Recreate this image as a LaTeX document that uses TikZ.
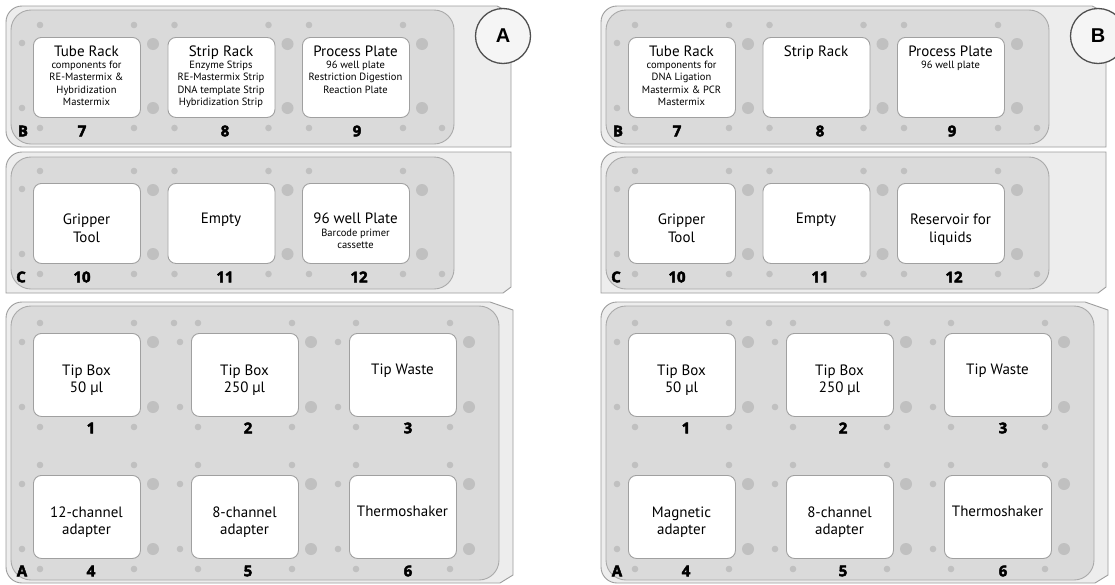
\documentclass[tikz,border=0pt]{standalone}
\usepackage{fontspec}
\setmainfont{PT Sans}
\newfontfamily\heavy{Open Sans}[BoldFeatures={FakeBold=3}]
\newfontfamily\circfont{Liberation Sans}
\definecolor{outerfill}{HTML}{EDEDED}
\definecolor{outerline}{HTML}{9D9D9D}
\definecolor{innerfill}{HTML}{DADADA}
\definecolor{innerline}{HTML}{A9A9A9}
\definecolor{tileline}{HTML}{A0A0A0}
\definecolor{dotfill}{HTML}{C0C0C0}
\definecolor{circfill}{HTML}{F5F5F5}
\definecolor{circline}{HTML}{505050}
\tikzset{
  outerdeck/.style={fill=outerfill, draw=outerline, line width=0.9pt},
  innerdeck/.style={fill=innerfill, draw=innerline, line width=0.9pt, rounded corners=20pt},
  tile/.style={draw=tileline, fill=white, rounded corners=8pt, line width=0.9pt,
    minimum width=107pt, minimum height=80pt, inner sep=0pt, anchor=north west},
  ttl/.style={font=\fontsize{15}{17.5}\selectfont, align=center, inner sep=0pt, anchor=north},
  sub/.style={font=\fontsize{10.5}{12.3}\selectfont, align=center, inner sep=0pt, anchor=north},
  num/.style={font=\heavy\bfseries\fontsize{15}{15}\selectfont, inner sep=0pt},
  circlabel/.style={circle, draw=circline, fill=circfill, line width=1.3pt, minimum size=55pt,
    inner sep=0pt, font=\circfont\bfseries\fontsize{20}{20}\selectfont},
}
\newcommand\deckframes[1]{%
  % outer plates
  \path[outerdeck] (511,13) -- (497,6) -- (22,6) arc[start angle=270,end angle=180,radius=16]
     -- (6,131) arc[start angle=180,end angle=90,radius=16] -- (511,147) -- cycle;
  \path[outerdeck] (511,152) -- (22,152) arc[start angle=270,end angle=180,radius=16]
     -- (6,293) -- (503,293) -- (511,287) -- cycle;
  \path[outerdeck] (513,310) -- (490,302) -- (22,302) arc[start angle=270,end angle=180,radius=16]
     -- (6,567) arc[start angle=180,end angle=90,radius=16] -- (500,583) -- (513,575) -- cycle;
  % inner plates
  \path[innerdeck] (11,10) rectangle (454,144);
  \path[innerdeck] (11,157) rectangle (454,289);
  \path[innerdeck] (11,306) rectangle (499,580);
  % decks B and C : dots
  \foreach \T in {37,183} {
    \foreach \L in {33,167.5,302} {
      \fill[dotfill] (\L+7,\T-12) circle[radius=3.3];
      \fill[dotfill] (\L+101,\T-12) circle[radius=3.3];
      \fill[dotfill] (\L+7,\T+91) circle[radius=3.3];
      \fill[dotfill] (\L+101,\T+91) circle[radius=3.3];
      \fill[dotfill] (\L+120,\T+7) circle[radius=6];
      \fill[dotfill] (\L+120,\T+71) circle[radius=6];
    }
    \fill[dotfill] (22,\T+6) circle[radius=3.3];
    \fill[dotfill] (22,\T+71) circle[radius=3.3];
    \fill[dotfill] (442,\T+91) circle[radius=3.3];
  }
  % deck A : dots
  \foreach \T in {333,475} {
    \foreach \L in {33,191,349} {
      \fill[dotfill] (\L+7,\T-10) circle[radius=3.3];
      \fill[dotfill] (\L+101,\T-10) circle[radius=3.3];
      \fill[dotfill] (\L+7,\T+94) circle[radius=3.3];
      \fill[dotfill] (\L+101,\T+94) circle[radius=3.3];
      \fill[dotfill] (\L-11,\T+9) circle[radius=3.3];
      \fill[dotfill] (\L-11,\T+74) circle[radius=3.3];
      \fill[dotfill] (\L+120,\T+9) circle[radius=6];
      \fill[dotfill] (\L+120,\T+74) circle[radius=6];
    }
  }
  \fill[dotfill] (174,323) circle[radius=3.3];
  % tiles
  \foreach \L/\n/\nx in {33/7/82,167.5/8/225,302/9/357} {
    \node[tile] (#1t\n) at (\L,37) {};
    \node[num] (#1n\n) at (\nx,131) {\n};
  }
  \foreach \L/\n/\nx in {33/10/82,167.5/11/225,302/12/359} {
    \node[tile] (#1t\n) at (\L,183) {};
    \node[num] (#1n\n) at (\nx,277) {\n};
  }
  \foreach \L/\n/\nx in {33/1/91,191/2/248,349/3/408} {
    \node[tile, minimum height=83pt] (#1t\n) at (\L,333) {};
    \node[num] (#1n\n) at (\nx,428) {\n};
  }
  \foreach \L/\n/\nx in {33/4/91,191/5/248,349/6/408} {
    \node[tile, minimum height=83pt] (#1t\n) at (\L,475) {};
    \node[num] (#1n\n) at (\nx,571) {\n};
  }
  % deck letters
  \node[num] (#1lB) at (23,131) {B};
  \node[num] (#1lC) at (21,277) {C};
  \node[num] (#1lA) at (22,571) {A};
}
\begin{document}
\begin{tikzpicture}[x=1pt,y=-1pt]
\useasboundingbox (0,0) rectangle (1115,584);
\fill[white] (0,0) rectangle (1115,584);
% ---------------- panel A ----------------
\deckframes{A}
\node[circlabel] (Acirc) at (503,36) {A};
\node[ttl] (A7a) at (86.5,46) {Tube Rack};
\node[sub] (A7b) at (86.5,61) {components for\\RE-Mastermix \&\\Hybridization\\Mastermix};
\node[ttl] (A8a) at (221,46) {Strip Rack};
\node[sub] (A8b) at (221,61) {Enzyme Strips\\RE-Mastermix Strip\\DNA template Strip\\Hybridization Strip};
\node[ttl] (A9a) at (355.5,46) {Process Plate};
\node[sub] (A9b) at (355.5,61) {96 well plate\\Restriction Digestion\\Reaction Plate};
\node[ttl] (A10a) at (86.5,214) {Gripper\\Tool};
\node[ttl] (A11a) at (221,213) {Empty};
\node[ttl] (A12a) at (355.5,213) {96 well Plate};
\node[sub] (A12b) at (355.5,229) {Barcode primer\\cassette};
\node[ttl] (A1a) at (86.5,364.5) {Tip Box\\50 µl};
\node[ttl] (A2a) at (244.5,364.5) {Tip Box\\250 µl};
\node[ttl] (A3a) at (402.5,363.5) {Tip Waste};
\node[ttl] (A4a) at (86.5,506.5) {12-channel\\adapter};
\node[ttl] (A5a) at (244.5,506.5) {8-channel\\adapter};
\node[ttl] (A6a) at (402.5,505.5) {Thermoshaker};
% ---------------- panel B ----------------
\begin{scope}[xshift=595pt]
\deckframes{B}
\node[circlabel] (Bcirc) at (503,36) {B};
\node[ttl] (B7a) at (86.5,46) {Tube Rack};
\node[sub] (B7b) at (86.5,61) {components for\\DNA Ligation\\Mastermix \& PCR\\Mastermix};
\node[ttl] (B8a) at (221,46) {Strip Rack};
\node[ttl] (B9a) at (355.5,46) {Process Plate};
\node[sub] (B9b) at (355.5,61) {96 well plate};
\node[ttl] (B10a) at (86.5,214) {Gripper\\Tool};
\node[ttl] (B11a) at (221,213) {Empty};
\node[ttl] (B12a) at (355.5,214) {Reservoir for\\liquids};
\node[ttl] (B1a) at (86.5,364.5) {Tip Box\\50 µl};
\node[ttl] (B2a) at (244.5,364.5) {Tip Box\\250 µl};
\node[ttl] (B3a) at (402.5,363.5) {Tip Waste};
\node[ttl] (B4a) at (86.5,506.5) {Magnetic\\adapter};
\node[ttl] (B5a) at (244.5,506.5) {8-channel\\adapter};
\node[ttl] (B6a) at (402.5,505.5) {Thermoshaker};
\end{scope}
\end{tikzpicture}
\end{document}
